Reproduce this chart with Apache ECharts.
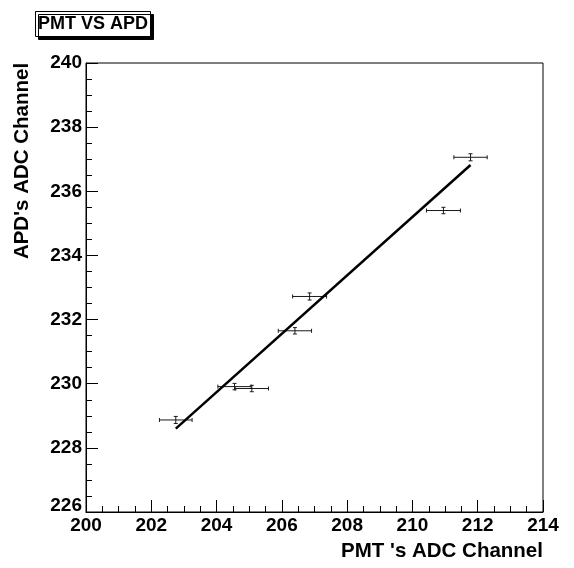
<!DOCTYPE html>
<html>
<head>
<meta charset="utf-8">
<script src="https://cdn.jsdelivr.net/npm/echarts@6/dist/echarts.min.js"></script>
<style>
  html, body { margin: 0; padding: 0; background: #fff; }
  #chart { width: 574px; height: 568px; }
</style>
</head>
<body>
<div id="chart"></div>
<script>
// Measured channels (PMT on x, APD on y) with their uncertainties
const pmt    = [202.75, 204.55, 205.08, 206.40, 206.85, 210.95, 211.78];
const pmtErr = [0.50, 0.51, 0.51, 0.51, 0.52, 0.52, 0.51];
const apd    = [228.87, 229.91, 229.85, 231.65, 232.72, 235.40, 237.06];
const apdErr = [0.11, 0.10, 0.10, 0.10, 0.11, 0.10, 0.11];

// Straight-line fit over the data range
const fitX = [202.75, 211.78];
const fitY = [228.60, 236.82];

const xTicks = { min: 200, max: 214, step: 2 };
const yTicks = { min: 226, max: 240, step: 2 };

const FONT = '"Liberation Sans", Arial, Helvetica, sans-serif';

const points = pmt.map((x, i) => [x, apd[i], pmtErr[i], apdErr[i]]);
const fitLine = fitX.map((x, i) => [x, fitY[i]]);

function renderErrorBar(params, api) {
  const x = api.value(0), y = api.value(1);
  const ex = api.value(2), ey = api.value(3);
  const c = api.coord([x, y]);
  const l = api.coord([x - ex, y]);
  const r = api.coord([x + ex, y]);
  const t = api.coord([x, y + ey]);
  const b = api.coord([x, y - ey]);
  const style = { stroke: '#1a1a1a', lineWidth: 1 };
  const cap = 2;
  const seg = (x1, y1, x2, y2) => ({
    type: 'line', shape: { x1, y1, x2, y2 }, style
  });
  return {
    type: 'group',
    children: [
      seg(l[0], c[1], r[0], c[1]),
      seg(l[0], c[1] - cap, l[0], c[1] + cap),
      seg(r[0], c[1] - cap, r[0], c[1] + cap),
      seg(c[0], t[1], c[0], b[1]),
      seg(c[0] - cap, t[1], c[0] + cap, t[1]),
      seg(c[0] - cap, b[1], c[0] + cap, b[1])
    ]
  };
}

const chart = echarts.init(document.getElementById('chart'), null, { renderer: 'canvas' });

chart.setOption({
  animation: false,
  backgroundColor: '#fff',
  title: {
    text: 'PMT VS APD',
    left: 35,
    top: 11,
    padding: [4, 3, 3, 3],
    backgroundColor: '#fff',
    borderColor: '#000',
    borderWidth: 1,
    shadowColor: '#000',
    shadowOffsetX: 3,
    shadowOffsetY: 3,
    shadowBlur: 0,
    textStyle: { fontFamily: FONT, fontWeight: 'bold', fontSize: 18, lineHeight: 19, color: '#000' }
  },
  grid: {
    left: 86, right: 31, top: 63, bottom: 56,
    show: true, borderColor: '#000', borderWidth: 1, backgroundColor: 'transparent'
  },
  xAxis: {
    type: 'value',
    min: xTicks.min, max: xTicks.max, interval: xTicks.step,
    name: "PMT 's ADC Channel",
    nameLocation: 'middle',
    nameGap: 29,
    nameTextStyle: {
      fontFamily: FONT, fontWeight: 'bold', fontSize: 20.5, color: '#000',
      padding: [0, 0, 0, 255]
    },
    axisLine: { show: true, lineStyle: { color: '#000', width: 1 } },
    axisTick: { show: true, inside: true, length: 12, lineStyle: { color: '#000' } },
    minorTick: { show: true, splitNumber: 4, length: 6, lineStyle: { color: '#000' } },
    splitLine: { show: false },
    axisLabel: {
      margin: 4,
      fontFamily: FONT, fontWeight: 'bold', fontSize: 19, color: '#000'
    }
  },
  yAxis: {
    type: 'value',
    min: yTicks.min, max: yTicks.max, interval: yTicks.step,
    name: "APD's ADC Channel",
    nameLocation: 'middle',
    nameGap: 53,
    nameTextStyle: {
      fontFamily: FONT, fontWeight: 'bold', fontSize: 20.5, color: '#000',
      padding: [0, 0, 0, 253]
    },
    axisLine: { show: true, lineStyle: { color: '#000', width: 1 } },
    axisTick: { show: true, inside: true, length: 12, lineStyle: { color: '#000' } },
    minorTick: { show: true, splitNumber: 4, length: 6, lineStyle: { color: '#000' } },
    splitLine: { show: false },
    axisLabel: {
      margin: 4,
      fontFamily: FONT, fontWeight: 'bold', fontSize: 19, color: '#000',
      formatter: v => (v === yTicks.min ? '{low|' + v + '}' : String(v)),
      rich: {
        low: { fontFamily: FONT, fontWeight: 'bold', fontSize: 19, color: '#000', padding: [0, 0, 12, 0] }
      }
    }
  },
  series: [
    {
      type: 'custom',
      name: 'data',
      renderItem: renderErrorBar,
      encode: { x: 0, y: 1 },
      data: points,
      z: 2
    },
    {
      type: 'line',
      name: 'fit',
      data: fitLine,
      showSymbol: false,
      symbol: 'none',
      lineStyle: { color: '#000', width: 2.5 },
      z: 3
    }
  ]
});
</script>
</body>
</html>
